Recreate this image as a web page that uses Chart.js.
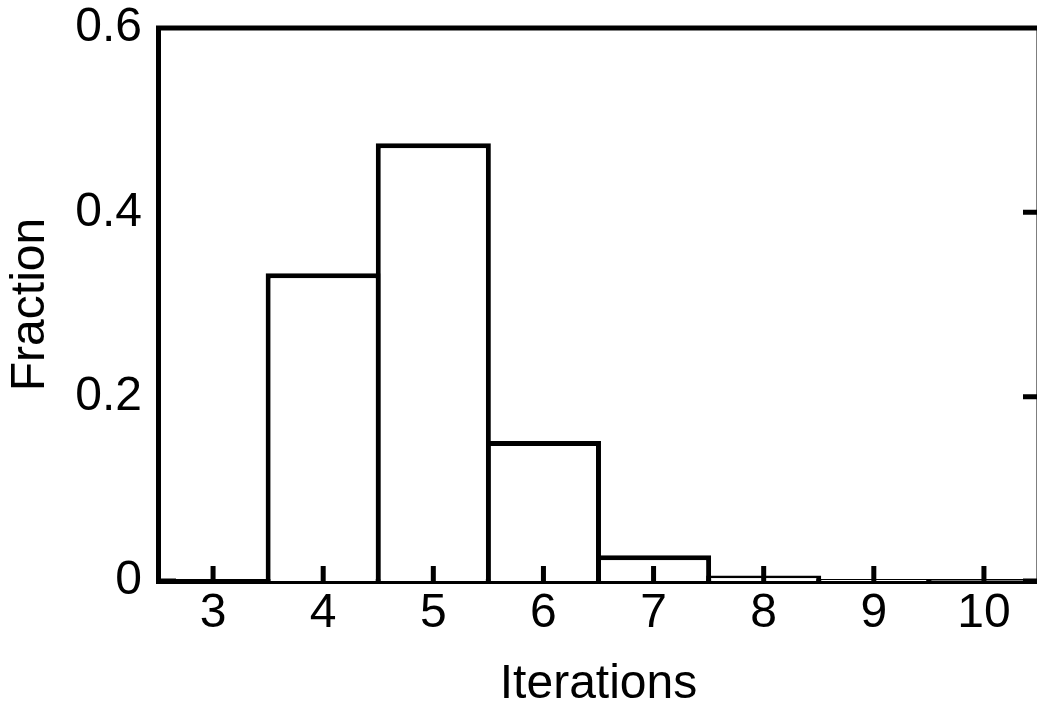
<!DOCTYPE html>
<html>
<head>
<meta charset="utf-8">
<script src="https://cdn.jsdelivr.net/npm/chart.js@4.4.0/dist/chart.umd.min.js"></script>
<style>
  html, body { margin: 0; padding: 0; background: #fff; overflow: hidden; }
  #wrap { position: relative; width: 1044px; height: 710px; }
</style>
</head>
<body>
<div id="wrap"><canvas id="myChart"></canvas></div>
<script>
// dati
const iterations = ['3', '4', '5', '6', '7', '8', '9', '10'];
const fraction = [0, 0.334, 0.475, 0.152, 0.028, 0.006, 0.002, 0.001];
const yTicks = [0, 0.2, 0.4, 0.6];

const font = { family: "'Liberation Sans', Arial, sans-serif", size: 48 };
const ink = '#000';
const lw = 5;

// cornice superiore/destra e tacche rivolte verso l'interno
const frameTicks = {
  id: 'frameTicks',
  afterDraw(chart) {
    const c = chart.ctx;
    const a = chart.chartArea;
    const x = chart.scales.x;
    const y = chart.scales.y;
    c.save();
    c.strokeStyle = ink;
    c.lineWidth = lw;
    c.lineCap = 'butt';
    c.beginPath();
    c.moveTo(a.left - 2, a.top);
    c.lineTo(a.right + 2, a.top);
    c.moveTo(a.right, a.top);
    c.lineTo(a.right, a.bottom);
    // tacche asse x
    x.ticks.forEach((t, i) => {
      const px = x.getPixelForTick(i);
      c.moveTo(px, a.bottom);
      c.lineTo(px, a.bottom - 15);
    });
    // tacche asse y (lato destro)
    yTicks.forEach(v => {
      const py = y.getPixelForValue(v);
      c.moveTo(a.right, py);
      c.lineTo(a.right - 16, py);
    });
    // lato sinistro solo agli estremi
    [yTicks[0], yTicks[yTicks.length - 1]].forEach(v => {
      const py = y.getPixelForValue(v);
      c.moveTo(a.left, py);
      c.lineTo(a.left + 18, py);
    });
    c.stroke();
    c.restore();
  }
};

const ctx = document.getElementById('myChart').getContext('2d');
const myChart = new Chart(ctx, {
  type: 'bar',
  data: {
    labels: iterations,
    datasets: [{
      data: fraction,
      backgroundColor: '#fff',
      borderColor: ink,
      borderWidth: lw,
      barPercentage: 1.045,
      categoryPercentage: 1,
      inflateAmount: 0
    }]
  },
  options: {
    responsive: true,
    maintainAspectRatio: false,
    animation: false,
    events: [],
    layout: { padding: { top: 28, right: 5, left: 0, bottom: 0 } },
    plugins: {
      legend: { display: false },
      tooltip: { enabled: false }
    },
    scales: {
      x: {
        z: 1,
        grid: { display: false, drawTicks: false },
        border: { display: true, color: ink, width: lw },
        ticks: { color: ink, font: font, padding: 4, maxRotation: 0 },
        title: {
          display: true, text: 'Iterations', color: ink,
          font: { family: font.family, size: 48, lineHeight: 1 },
          padding: { top: 0, bottom: 1 }
        },
        afterFit(scale) {
          scale.height = 129;
          scale.paddingLeft = 0;
          scale.paddingRight = 0;
        }
      },
      y: {
        z: 1,
        min: 0,
        max: 0.6,
        afterBuildTicks(scale) { scale.ticks = yTicks.map(v => ({ value: v })); },
        grid: { display: false, drawTicks: false },
        border: { display: true, color: ink, width: lw },
        ticks: {
          color: ink, font: font, padding: 16,
          callback: v => v === 0 ? '0' : v.toFixed(1)
        },
        title: {
          display: true, text: 'Fraction', color: ink,
          font: { family: font.family, size: 48, lineHeight: 1 },
          padding: { top: 7, bottom: 0 }
        },
        afterFit(scale) {
          scale.width = 158;
          scale.paddingTop = 0;
          scale.paddingBottom = 0;
        }
      }
    }
  },
  plugins: [frameTicks]
});
</script>
</body>
</html>
